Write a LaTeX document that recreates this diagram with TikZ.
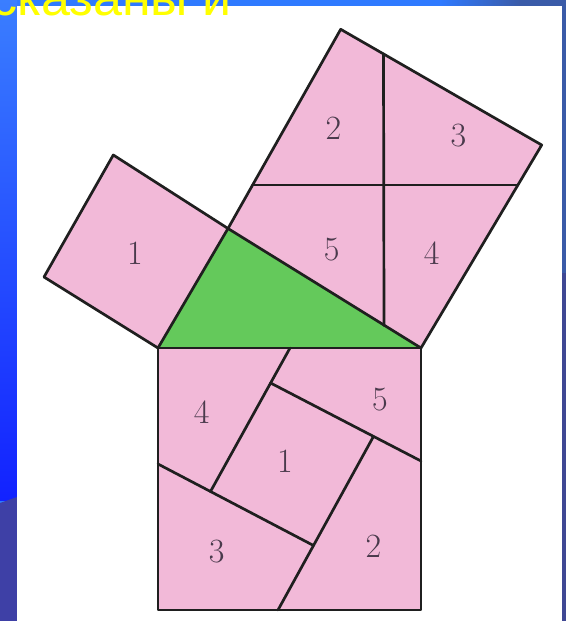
\documentclass[tikz,border=0pt]{standalone}
\usepackage{fontspec}
\newfontfamily\yfont{Liberation Sans}
\usetikzlibrary{calc}
\definecolor{pinkfill}{HTML}{F2B9D8}
\definecolor{greenfill}{HTML}{64C95B}
\definecolor{digit}{HTML}{4A3A4C}
\definecolor{bgblue}{HTML}{2F7AFF}
\definecolor{bgtop}{HTML}{3A7EFF}
\definecolor{bgdeep}{HTML}{1222FF}
\definecolor{bggray}{HTML}{3E40A6}
\definecolor{bgslate}{HTML}{3A5BA8}
\definecolor{bgslate2}{HTML}{3F4894}
\definecolor{ytext}{HTML}{FFFF00}
\tikzset{
  edge/.style={line width=2.7pt, line join=round, line cap=round, draw=black!88},
  piece/.style={fill=pinkfill},
  tri/.style={fill=greenfill},
  lbl/.style={text=digit, font=\fontsize{34}{34}\selectfont, inner sep=0pt},
}
\begin{document}
\begin{tikzpicture}[x=1pt,y=-1pt]
\useasboundingbox (0,0) rectangle (566,621);
\clip (0,0) rectangle (566,621);
% background slide
\fill[bgblue] (0,0) rectangle (566,621);
\shade[top color=bgtop, bottom color=bgdeep] (0,0) rectangle (17,500);
\fill[bggray] (0,503) -- (17,497) -- (17,621) -- (0,621) -- cycle;
\shade[left color=bgblue, right color=bgslate] (440,0) rectangle (520,6);
\fill[bgslate] (520,0) rectangle (566,6);
\fill[bgslate] (562,0) rectangle (566,273);
\fill[bgslate2] (562,273) rectangle (566,621);
\fill[white] (17,6) rectangle (562,621);
% partially visible title
\node[anchor=base west, inner sep=0pt, text=ytext, font=\yfont\fontsize{52}{52}\selectfont] (title) at (-9,16) {сказаны и};

% triangle
\coordinate (A) at (158,348);
\coordinate (B) at (421,348);
\coordinate (C) at (228,228.5);
% small square
\coordinate (Ts) at (113.3,155);
\coordinate (Ls) at (44,277);
% big square
\coordinate (Tb) at (340.7,29.3);
\coordinate (Rb) at (541.7,145);
\coordinate (V1) at (383.5,54);
\coordinate (V2) at (384,325.5);
\coordinate (H1) at (252.6,185);
\coordinate (H2) at (517.9,185);
% hypotenuse square
\coordinate (D1) at (421,610);
\coordinate (D2) at (158,610);
\coordinate (T1) at (290,348);
\coordinate (L2a) at (158,464);
\coordinate (P1) at (270.6,383);
\coordinate (P2) at (373.5,436.4);
\coordinate (P3) at (313.5,545.5);
\coordinate (P4) at (210.5,491.5);
\coordinate (R3) at (421,461);
\coordinate (B4) at (278,610);

% fills
\fill[piece] (A) -- (C) -- (Ts) -- (Ls) -- cycle;
\fill[piece] (C) -- (Tb) -- (Rb) -- (B) -- cycle;
\fill[piece] (A) -- (B) -- (D1) -- (D2) -- cycle;
\fill[tri] (A) -- (B) -- (C) -- cycle;

% outlines
\draw[edge] (A) -- (C) -- (Ts) -- (Ls) -- cycle;
\draw[edge] (C) -- (Tb) -- (Rb) -- (B) -- cycle;
\draw[edge] (A) -- (B) -- (D1) -- (D2) -- cycle;
\draw[edge] (V1) -- (V2);
\draw[edge] (H1) -- (H2);
\draw[edge] (T1) -- (P1) -- (P4);
\draw[edge] (L2a) -- (P4) -- (P3);
\draw[edge] (P1) -- (P2) -- (R3);
\draw[edge] (P2) -- (P3) -- (B4);

% labels
\node[lbl] (s1) at (135,253) {1};
\node[lbl] (b2) at (333.3,128) {2};
\node[lbl] (b3) at (458.3,136) {3};
\node[lbl] (b5) at (331.7,250) {5};
\node[lbl] (b4) at (431.7,253.3) {4};
\node[lbl] (h4) at (201.7,411.7) {4};
\node[lbl] (h5) at (380,400) {5};
\node[lbl] (h1) at (285,461.7) {1};
\node[lbl] (h3) at (216.7,551.7) {3};
\node[lbl] (h2) at (373.3,546.7) {2};
\end{tikzpicture}
\end{document}
